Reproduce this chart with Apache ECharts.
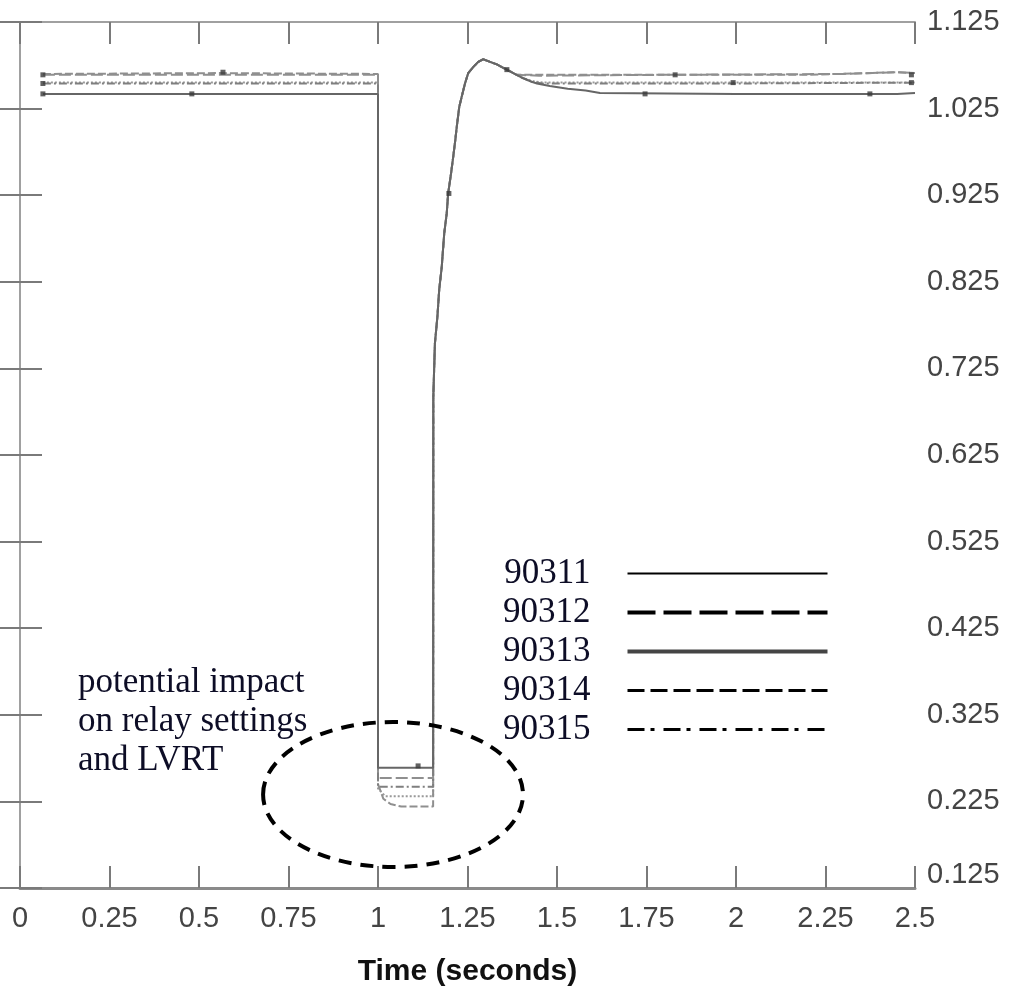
<!DOCTYPE html>
<html><head><meta charset="utf-8">
<script src="https://cdn.jsdelivr.net/npm/echarts@6/dist/echarts.min.js"></script>
<style>html,body{margin:0;padding:0;background:#fff}#c{width:1017px;height:993px}</style>
</head><body><div id="c"></div>
<script>
// ---- axis settings ----
const xMin = 0, xMax = 2.5, xStep = 0.25;
const yMin = 0.125, yMax = 1.125, yStep = 0.1;
const xTitle = 'Time (seconds)';
const seriesNames = ['90311', '90312', '90313', '90314', '90315'];

// ---- shared post-fault recovery (all buses overlap) ----
const riseTime  = [1.1545, 1.159, 1.166, 1.171, 1.178, 1.185, 1.192, 1.196, 1.204, 1.210, 1.216, 1.220, 1.227, 1.234, 1.243, 1.252, 1.266, 1.280, 1.294, 1.313, 1.332, 1.350, 1.369];
const riseValue = [0.692, 0.754, 0.785, 0.816, 0.842, 0.881, 0.904, 0.927, 0.950, 0.969, 0.989, 1.004, 1.027, 1.039, 1.054, 1.066, 1.073, 1.079, 1.082, 1.079, 1.076, 1.072, 1.068];

// ---- per-bus pre-fault + fault segments ----
const pre90311T = [0.064, 0.5, 1.0, 1.0, 1.017, 1.154];
const pre90311V = [1.042, 1.042, 1.042, 0.264, 0.264, 0.264];
const pre90312T = [0.064, 0.55, 1.0, 1.0, 1.08, 1.154];
const pre90312V = [1.064, 1.064, 1.064, 0.252, 0.252, 0.252];
const pre90313T = [0.064, 0.5, 1.0, 1.0, 1.02, 1.154];
const pre90313V = [1.055, 1.055, 1.055, 0.240, 0.231, 0.231];
const pre90314T = [0.064, 0.55, 1.0, 1.0, 1.015, 1.035, 1.065, 1.154];
const pre90314V = [1.065, 1.066, 1.065, 0.245, 0.228, 0.222, 0.219, 0.219];
const pre90315T = [0.064, 0.5, 1.0, 1.0, 1.154];
const pre90315V = [1.054, 1.054, 1.054, 0.242, 0.242];

// ---- per-bus tails after the overshoot ----
const tail90311T = [1.387, 1.406, 1.429, 1.444, 1.48, 1.53, 1.58, 1.62, 2.0, 2.45, 2.5];
const tail90311V = [1.064, 1.060, 1.056, 1.054, 1.051, 1.048, 1.046, 1.043, 1.042, 1.042, 1.043];
const tail90312T = [1.387, 1.45, 1.8, 2.3, 2.45, 2.5];
const tail90312V = [1.064, 1.063, 1.064, 1.065, 1.067, 1.066];
const tail90313T = [1.387, 1.406, 1.429, 1.46, 1.8, 2.5];
const tail90313V = [1.064, 1.060, 1.057, 1.055, 1.055, 1.055];
const tail90314T = [1.387, 1.5, 2.2, 2.45, 2.5];
const tail90314V = [1.064, 1.064, 1.064, 1.067, 1.066];
const tail90315T = [1.387, 1.406, 1.429, 1.46, 2.0, 2.5];
const tail90315V = [1.064, 1.060, 1.056, 1.054, 1.054, 1.055];

// ---- small plotting markers seen on the traces ----
const markerT = [0.064, 0.064, 0.064, 0.480, 0.567, 1.112, 1.198, 1.360, 1.746, 1.830, 1.992, 2.374, 2.49, 2.49];
const markerV = [1.042, 1.054, 1.064, 1.042, 1.067, 0.266, 0.927, 1.070, 1.042, 1.064, 1.055, 1.042, 1.055, 1.064];

// ---- annotation ----
const noteText = ['potential impact', 'on relay settings', 'and LVRT'];
const ellipseCenter = [1.042, 0.233];
const ellipseRadius = [0.363, 0.0837];

function build(preT, preV, tailT, tailV) {
  const t = preT.concat(riseTime, tailT);
  const v = preV.concat(riseValue, tailV);
  return t.map((x, i) => [x, v[i]]);
}
const seriesData = [
  build(pre90311T, pre90311V, tail90311T, tail90311V),
  build(pre90312T, pre90312V, tail90312T, tail90312V),
  build(pre90313T, pre90313V, tail90313T, tail90313V),
  build(pre90314T, pre90314V, tail90314T, tail90314V),
  build(pre90315T, pre90315V, tail90315T, tail90315V)
];
const plotStyles = [
  {color: '#666666', width: 2, type: 'solid', z: 5},
  {color: '#8f8f8f', width: 2, type: [12, 4], z: 3},
  {color: '#999999', width: 2, type: [2, 2], z: 3},
  {color: '#8f8f8f', width: 2, type: [8, 3], z: 3},
  {color: '#7f7f7f', width: 2, type: [8, 3, 2, 3], z: 4}
];
const legendStyles = [
  {color: '#000', width: 2, type: 'solid'},
  {color: '#000', width: 4, type: [28, 8]},
  {color: '#444', width: 4, type: 'solid'},
  {color: '#000', width: 3, type: [17, 6]},
  {color: '#000', width: 3, type: [17, 6, 4, 9]}
];

const frameColor = '#a0a0a0', tickColor = '#7a7a7a';
const labelFont = {fontFamily: '"Liberation Sans", Arial, sans-serif', fontSize: 29, color: '#444'};

const chart = echarts.init(document.getElementById('c'), null, {renderer: 'canvas'});
const option = {
  animation: false,
  backgroundColor: '#fff',
  grid: {left: 20, right: 102, top: 22, bottom: 105, show: false},
  xAxis: [
    {type: 'value', min: xMin, max: xMax, interval: xStep, position: 'bottom',
     name: xTitle, nameLocation: 'middle', nameGap: 69,
     nameTextStyle: {fontFamily: '"Liberation Sans", Arial, sans-serif', fontWeight: 'bold', fontSize: 30, color: '#111'},
     axisLine: {show: true, lineStyle: {color: '#8a8a8a', width: 3}},
     axisTick: {show: true, inside: true, length: 22, lineStyle: {color: tickColor, width: 2}},
     axisLabel: Object.assign({margin: 16, formatter: v => String(v)}, labelFont),
     splitLine: {show: false}},
    {type: 'value', min: xMin, max: xMax, interval: xStep, position: 'top',
     axisLine: {show: true, lineStyle: {color: frameColor, width: 2}},
     axisTick: {show: true, inside: true, length: 22, lineStyle: {color: tickColor, width: 2}},
     axisLabel: {show: false}, splitLine: {show: false}}
  ],
  yAxis: [
    {type: 'value', min: yMin, max: yMax, interval: yStep, position: 'right',
     axisLine: {show: true, lineStyle: {color: frameColor, width: 2}},
     axisTick: {show: true, inside: true, length: 22, lineStyle: {color: tickColor, width: 2}},
     axisLabel: Object.assign({margin: 12,
       formatter: v => Math.abs(v - yMin) < 1e-9 ? '{m|' + v.toFixed(3) + '}' : v.toFixed(3),
       rich: {m: {fontFamily: '"Liberation Sans", Arial, sans-serif', fontSize: 29, color: '#444', padding: [0, 0, 26, 0]}}
     }, labelFont),
     splitLine: {show: false}},
    {type: 'value', min: yMin, max: yMax, interval: yStep, position: 'left',
     axisLine: {show: true, lineStyle: {color: frameColor, width: 2}},
     axisTick: {show: true, inside: true, length: 22, lineStyle: {color: tickColor, width: 2}},
     axisLabel: {show: false}, splitLine: {show: false}}
  ],
  legend: {
    orient: 'vertical', left: 503, top: 554, align: 'right',
    itemWidth: 200, itemHeight: 10, itemGap: 0, padding: 0, selectedMode: false,
    textStyle: {fontFamily: '"Liberation Serif", "Times New Roman", serif', fontSize: 35, color: '#0d0d26', lineHeight: 39, padding: [0, 32, 0, 0]},
    data: seriesNames.map((n, i) => ({
      name: n, lineStyle: legendStyles[i],
      itemStyle: {color: 'rgba(0,0,0,0)', borderColor: 'rgba(0,0,0,0)', borderWidth: 0, opacity: 0}
    }))
  },
  series: seriesNames.map((n, i) => ({
    name: n, type: 'line', xAxisIndex: 0, yAxisIndex: 0,
    data: seriesData[i], symbol: 'none', smooth: false, z: plotStyles[i].z,
    lineStyle: {color: plotStyles[i].color, width: plotStyles[i].width, type: plotStyles[i].type},
    itemStyle: {color: plotStyles[i].color}
  })).concat([{
    name: 'markers', type: 'scatter', xAxisIndex: 0, yAxisIndex: 0, z: 6,
    symbol: 'rect', symbolSize: 5, itemStyle: {color: '#3a3a3a'},
    data: markerT.map((t, i) => [t, markerV[i]])
  }])
};
chart.setOption(option);

const c = chart.convertToPixel({xAxisIndex: 0, yAxisIndex: 0}, ellipseCenter);
const e = chart.convertToPixel({xAxisIndex: 0, yAxisIndex: 0}, [ellipseCenter[0] + ellipseRadius[0], ellipseCenter[1] + ellipseRadius[1]]);
chart.setOption({
  graphic: [
    {type: 'ellipse', z: 100, silent: true,
     shape: {cx: c[0], cy: c[1], rx: e[0] - c[0], ry: c[1] - e[1]},
     style: {fill: 'none', stroke: '#000', lineWidth: 4, lineDash: [13, 9]}},
    {type: 'text', left: 78, top: 663, z: 100, silent: true,
     style: {text: noteText.join('\n'), fontFamily: '"Liberation Serif", "Times New Roman", serif', fontSize: 35, lineHeight: 39, fill: '#0d0d26'}}
  ]
});
</script></body></html>
